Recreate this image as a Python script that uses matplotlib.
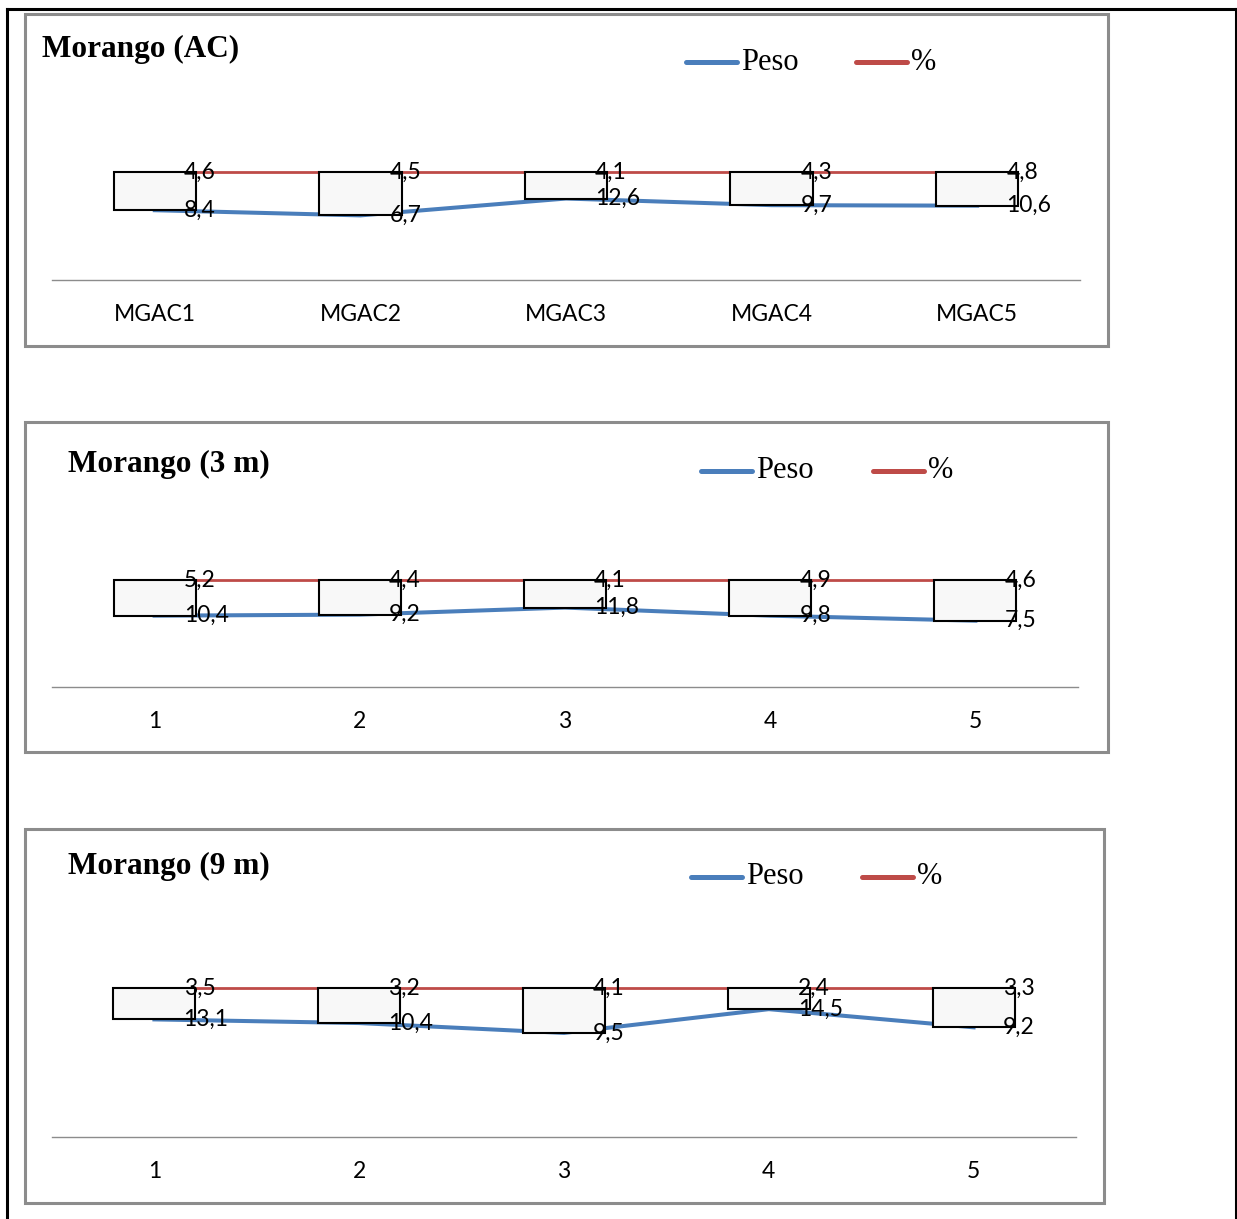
import matplotlib.pyplot as plt
from matplotlib.lines import Line2D
from matplotlib.patches import Rectangle

# strawberry samples: weight (Peso) and percentage (%)
cats_ac = ["MGAC1", "MGAC2", "MGAC3", "MGAC4", "MGAC5"]
peso_ac = [8.4, 6.7, 12.6, 9.7, 10.6]
pct_ac = [4.6, 4.5, 4.1, 4.3, 4.8]

cats_3m = ["1", "2", "3", "4", "5"]
peso_3m = [10.4, 9.2, 11.8, 9.8, 7.5]
pct_3m = [5.2, 4.4, 4.1, 4.9, 4.6]

cats_9m = ["1", "2", "3", "4", "5"]
peso_9m = [13.1, 10.4, 9.5, 14.5, 9.2]
pct_9m = [3.5, 3.2, 4.1, 2.4, 3.3]

W, H = 1237, 1219
BLUE = "#4a7ebb"
RED = "#be4b48"
FRAME = "#8c8c8c"
SERIF = "Liberation Serif"
SANS = "Lato"

fig = plt.figure(figsize=(W / 100, H / 100), dpi=100)


def fx(x):
    return x / W


def fy(y):
    return 1 - y / H


def fmt(v):
    return f"{v:.1f}".replace(".", ",")


def panel(title, cats, peso, pct, box, title_xy, leg_x, leg_y, ax_x, ax_top, ax_bottom):
    # chart frame
    x0, y0, x1, y1 = box
    fig.patches.append(Rectangle((fx(x0), fy(y1)), fx(x1 - x0), (y1 - y0) / H,
                                 transform=fig.transFigure, fill=False,
                                 edgecolor=FRAME, lw=2.2, zorder=0))
    fig.text(fx(title_xy[0]), fy(title_xy[1]), title, family=SERIF, weight="bold",
             fontsize=22.5, ha="left", va="center")

    # legend
    for lx, col, lab in [(leg_x[0], BLUE, "Peso"), (leg_x[1], RED, "%")]:
        fig.add_artist(Line2D([fx(lx), fx(lx + 51)], [fy(leg_y), fy(leg_y)],
                              transform=fig.transFigure, color=col, lw=3.6,
                              solid_capstyle="round"))
        fig.text(fx(lx + 55), fy(leg_y), lab, family=SERIF, fontsize=22,
                 ha="left", va="center")

    # 100% stacked lines with up/down bars
    ax = fig.add_axes([fx(ax_x[0]), fy(ax_bottom), fx(ax_x[1] - ax_x[0]),
                       (ax_bottom - ax_top) / H])
    xs = range(len(cats))
    share = [p / (p + q) for p, q in zip(peso, pct)]
    top = [1.0] * len(cats)
    ax.plot(xs, share, color=BLUE, lw=2.9, zorder=2, clip_on=False)
    ax.plot(xs, top, color=RED, lw=2.0, zorder=2, clip_on=False)
    ax.bar(xs, [t - s for t, s in zip(top, share)], bottom=share, width=0.4,
           color="#f8f8f8", edgecolor="black", lw=1.5, zorder=3, clip_on=False)
    for i in xs:
        ax.annotate(fmt(pct[i]), (i, top[i]), xytext=(21, 0), textcoords="offset points",
                    ha="left", va="center", family=SANS, fontsize=16.5, zorder=4)
        ax.annotate(fmt(peso[i]), (i, share[i]), xytext=(21, 0), textcoords="offset points",
                    ha="left", va="center", family=SANS, fontsize=16.5, zorder=4)

    ax.set_xlim(-0.5, len(cats) - 0.5)
    ax.set_ylim(0, 1)
    ax.patch.set_visible(False)
    for side in ["top", "left", "right"]:
        ax.spines[side].set_visible(False)
    ax.spines["bottom"].set_color(FRAME)
    ax.spines["bottom"].set_linewidth(1.0)
    ax.set_yticks([])
    ax.set_xticks(list(xs))
    ax.set_xticklabels(cats, family=SANS, fontsize=16.5)
    ax.tick_params(axis="x", length=0, pad=17)


panel("Morango (AC)", cats_ac, peso_ac, pct_ac, (25, 14, 1108, 346), (42, 49),
      (686, 856), 62, (52, 1080), 172, 280)
panel("Morango (3 m)", cats_3m, peso_3m, pct_3m, (25, 422, 1108, 752), (68, 464),
      (701, 873), 471, (52, 1078), 580, 687)
panel("Morango (9 m)", cats_9m, peso_9m, pct_9m, (25, 829, 1104, 1203), (68, 866),
      (691, 862), 877, (52, 1076), 988, 1137)

# outer page border (open at the bottom)
for xs_, ys_ in [([7, 7], [9, H + 5]), ([7, 1236], [9, 9]), ([1236, 1236], [9, H + 5])]:
    fig.add_artist(Line2D([fx(v) for v in xs_], [fy(v) for v in ys_],
                          transform=fig.transFigure, color="black", lw=2.2))

fig.savefig("out.png", dpi=100, facecolor="white")
